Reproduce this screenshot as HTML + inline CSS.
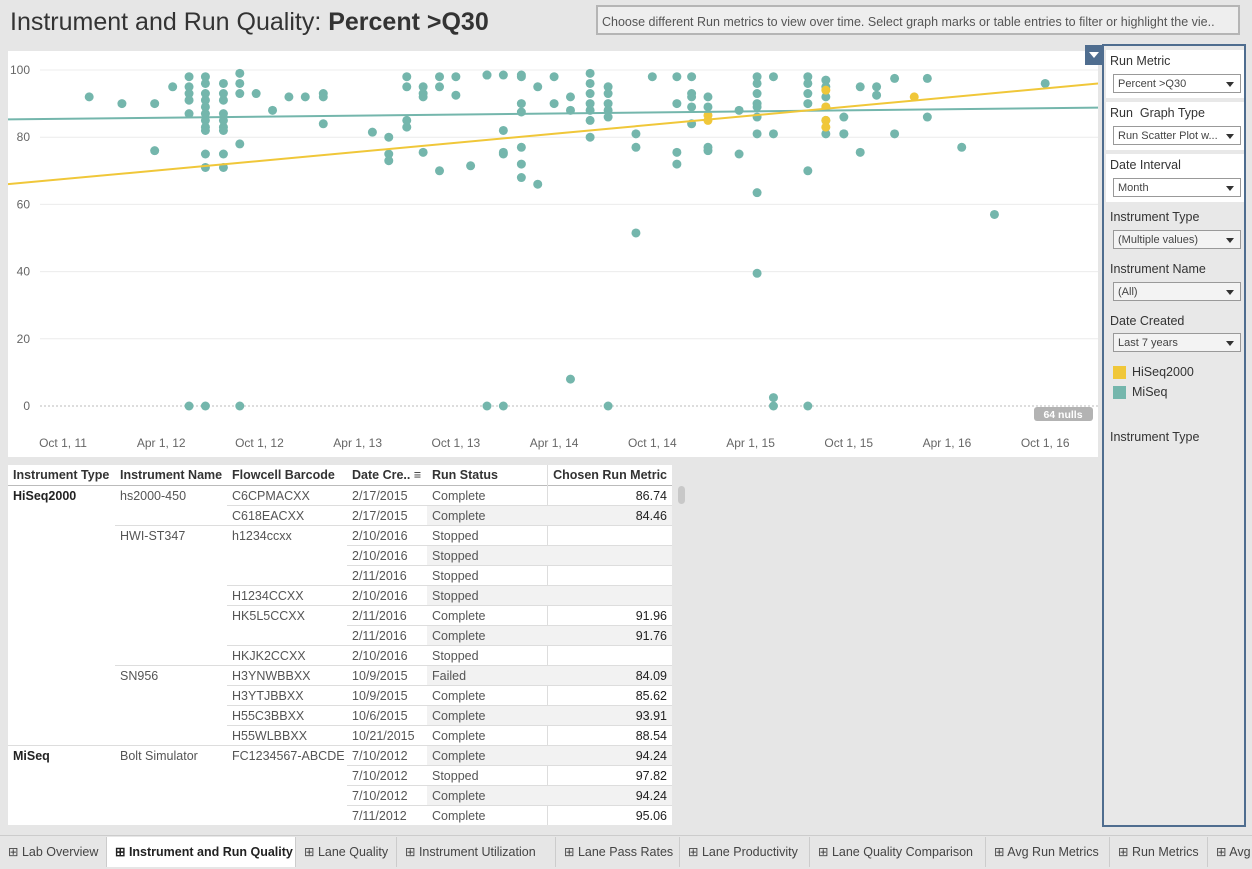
<!DOCTYPE html>
<html><head><meta charset="utf-8">
<style>
body{margin:0;width:1252px;height:868px;background:#e6e6e6;font-family:"Liberation Sans",sans-serif;position:relative;overflow:hidden;color:#333}
.abs{position:absolute}
#title{left:10px;top:8px;font-size:25px;color:#333}
#hint{left:596px;top:5px;width:644px;height:30px;border:2px solid #b5b5b5;background:#eee;font-size:12.5px;line-height:30px;padding-left:4px;color:#555;white-space:nowrap;overflow:hidden;box-sizing:border-box}
#chart{left:8px;top:51px;width:1090px;height:406px;background:#fff}
#panel{left:1102px;top:44px;width:144px;height:783px;border:2px solid #4f6d8f;box-sizing:border-box;background:#e8e8e8;overflow:hidden}
.sec{position:absolute;left:2px;width:138px;font-size:12.5px;color:#333}
.sec.w{background:#fff}
.dd{position:absolute;left:7px;width:128px;height:19px;border:1px solid #999;background:#fff;font-size:11px;line-height:19px;padding-left:4px;box-sizing:border-box;color:#444}
.dd:after{content:"";position:absolute;right:6px;top:7px;border-left:4px solid transparent;border-right:4px solid transparent;border-top:5px solid #333}
#table{left:8px;top:465px;width:664px;height:360px;background:#fff;overflow:hidden;font-size:12.5px}
.c{position:absolute;height:20px;line-height:20px;white-space:nowrap;color:#555;overflow:hidden}
#tabs{left:0;top:835px;width:1252px;height:33px;background:#e6e6e6;border-top:1px solid #ccc;overflow:hidden}
.tab{position:absolute;top:1px;height:30px;line-height:30px;font-size:12.5px;color:#444;border-right:1px solid #ccc;padding-left:8px;box-sizing:border-box;white-space:nowrap;overflow:hidden}
</style></head><body>
<div id="title" class="abs">Instrument and Run Quality: <b>Percent &gt;Q30</b></div>
<div id="hint" class="abs">Choose different Run metrics to view over time. Select graph marks or table entries to filter or highlight the vie..</div>

<svg id="chart" class="abs" width="1090" height="406"></svg>
<div class="abs" style="left:1085px;top:45px;width:17px;height:20px;background:#4f6d8f"><div style="margin:7px 0 0 4px;width:0;border-left:5px solid transparent;border-right:5px solid transparent;border-top:6px solid #fff"></div></div>

<div id="panel" class="abs">
 <div class="sec w" style="top:4px;height:48px"><div style="position:absolute;left:4px;top:4px">Run Metric</div><div class="dd" style="top:24px">Percent &gt;Q30</div></div>
 <div class="sec w" style="top:56px;height:48px"><div style="position:absolute;left:4px;top:4px">Run&nbsp; Graph Type</div><div class="dd" style="top:24px">Run Scatter Plot w...</div></div>
 <div class="sec w" style="top:108px;height:48px"><div style="position:absolute;left:4px;top:4px">Date Interval</div><div class="dd" style="top:24px">Month</div></div>
 <div class="sec" style="top:160px;height:48px"><div style="position:absolute;left:4px;top:4px">Instrument Type</div><div class="dd" style="top:24px;background:#f3f3f3">(Multiple values)</div></div>
 <div class="sec" style="top:212px;height:48px"><div style="position:absolute;left:4px;top:4px">Instrument Name</div><div class="dd" style="top:24px;background:#f3f3f3">(All)</div></div>
 <div class="sec" style="top:264px;height:48px"><div style="position:absolute;left:4px;top:4px">Date Created</div><div class="dd" style="top:23px;background:#f3f3f3">Last 7 years</div></div>
 <div class="sec" style="top:318px"><span style="position:absolute;left:7px;top:2px;width:13px;height:13px;background:#f0c739"></span><span style="position:absolute;left:26px;top:1px">HiSeq2000</span></div>
 <div class="sec" style="top:338px"><span style="position:absolute;left:7px;top:2px;width:13px;height:13px;background:#74b6ac"></span><span style="position:absolute;left:26px;top:1px">MiSeq</span></div>
 <div class="sec" style="top:384px"><span style="position:absolute;left:4px">Instrument Type</span></div>
</div>

<div id="table" class="abs"></div>
<div class="abs" style="left:678px;top:486px;width:7px;height:18px;border-radius:4px;background:#c8c8c8"></div>

<div id="tabs" class="abs"></div>

<script>
// ---- chart data (month offset from Oct 1 2011, value) ----
const miseqMonths=[1.6,3.6,5.6,5.6,6.7,7.7,7.7,7.7,7.7,7.7,7.7,8.7,8.7,8.7,8.7,8.7,8.7,8.7,8.7,8.7,8.7,8.7,8.7,9.8,9.8,9.8,9.8,9.8,9.8,9.8,9.8,9.8,10.8,10.8,10.8,10.8,10.8,11.8,12.8,13.8,14.8,15.9,15.9,15.9,18.9,19.9,19.9,19.9,21,21,21,21,22,22,22,22,23,23,23,24,24,24.9,25.9,25.9,25.9,26.9,26.9,26.9,26.9,26.9,28,28,28,28,28,28,28,29,29,30,30,31,31,31,32.2,32.2,32.2,32.2,32.2,32.2,32.2,33.3,33.3,33.3,33.3,33.3,33.3,35,35,35,36,37.5,37.5,37.5,37.5,38.4,38.4,38.4,38.4,38.4,39.4,39.4,39.4,39.4,41.3,41.3,42.4,42.4,42.4,42.4,42.4,42.4,42.4,42.4,42.4,43.4,43.4,43.4,43.4,45.5,45.5,45.5,45.5,45.5,45.5,46.6,46.6,46.6,46.6,46.6,46.6,47.7,47.7,47.7,48.7,48.7,49.7,49.7,50.8,50.8,52.8,52.8,54.9,56.9,60];
const miseqValues=[92,90,90,76,95,98,95,93,91,87,0,98,96,93,91,89,87,85,83,82,75,71,0,96,93,91,87,85,83,82,75,71,99,96,93,78,0,93,88,92,92,93,92,84,81.5,80,75,73,98,95,85,83,95,93,92,75.5,98,95,70,98,92.5,71.5,98.5,98.5,0,98.5,82,75.5,75,0,98.5,98,90,87.5,77,72,68,66,95,90,98,88,8,92,85,80,99,96,93,90,88,86,0,95,93,90,88,81,77,51.5,98,90,75.5,72,98,92,89,84,98,93,89,77,76,92,88,75,98,90,96,93,89,86,81,63.5,39.5,2.5,0,98,81,70,0,98,96,93,90,85,81,97,95,92,89,86,81,81,75.5,95,95,92.5,97.5,81,97.5,86,77,57,96,88,78.5];
const hiseqMonths=[39.4,39.4,46.6,46.6,46.6,46.6,52];
const hiseqValues=[86.5,85,94,89,85,83,92];
const trendStartMonth=-3.4, trendEndMonth=63.3;
const miseqTrend=[85.3,88.8];
const hiseqTrend=[66,96];
const yTicks=[0,20,40,60,80,100];
const xTickLabels=["Oct 1, 11","Apr 1, 12","Oct 1, 12","Apr 1, 13","Oct 1, 13","Apr 1, 14","Oct 1, 14","Apr 1, 15","Oct 1, 15","Apr 1, 16","Oct 1, 16"];
const xTickMonths=[0,6,12,18,24,30,36,42,48,54,60];

const svg=document.getElementById('chart');const NS='http://www.w3.org/2000/svg';
const xs=m=>55+m*16.37; const ys=v=>355-v*3.36;
function mk(t,a,p){const e=document.createElementNS(NS,t);for(const k in a)e.setAttribute(k,a[k]);(p||svg).appendChild(e);return e;}
yTicks.forEach((v,i)=>{
 const g=mk('line',{x1:32,x2:1090,y1:ys(v),y2:ys(v),stroke:v===0?'#bbb':'#ececec','stroke-dasharray':v===0?'2,2':'none'});
 
 
 const t=mk('text',{x:22,y:ys(v)+4,'text-anchor':'end','font-size':12,fill:'#666'});t.textContent=v;
 
 
});
xTickMonths.forEach((m,i)=>{
 const t=mk('text',{x:xs(m),y:396,'text-anchor':'middle','font-size':12,fill:'#666'});t.textContent=xTickLabels[i];
 
 
});
miseqMonths.forEach((m,i)=>{
 const c=mk('circle',{cx:xs(m),cy:ys(miseqValues[i]),r:4.5,fill:'#74b6ac'});
 
 
});
hiseqMonths.forEach((m,i)=>{
 const c=mk('circle',{cx:xs(m),cy:ys(hiseqValues[i]),r:4.5,fill:'#f0c739'});
 
 
});
let l=mk('line',{x1:xs(trendStartMonth),x2:xs(trendEndMonth),y1:ys(miseqTrend[0]),y2:ys(miseqTrend[1]),stroke:'#74b6ac','stroke-width':2});


l=mk('line',{x1:xs(trendStartMonth),x2:xs(trendEndMonth),y1:ys(hiseqTrend[0]),y2:ys(hiseqTrend[1]),stroke:'#f0c739','stroke-width':2});


const nb=mk('rect',{x:1026,y:356,width:59,height:14,rx:3,fill:'#b3b3b3'});


const nt=mk('text',{x:1055,y:367,'text-anchor':'middle','font-size':10.5,'font-weight':'bold',fill:'#fff'});nt.textContent='64 nulls';



// ---- table ----
const tb=document.getElementById('table');
const colX=[0,107,219,339,419,539,664];
const heads=["Instrument Type","Instrument Name","Flowcell Barcode","Date Cre.. \u2261","Run Status","Chosen Run Metric"];
const rows=[
["HiSeq2000","hs2000-450","C6CPMACXX","2/17/2015","Complete","86.74"],
["","","C618EACXX","2/17/2015","Complete","84.46"],
["","HWI-ST347","h1234ccxx","2/10/2016","Stopped",""],
["","","","2/10/2016","Stopped",""],
["","","","2/11/2016","Stopped",""],
["","","H1234CCXX","2/10/2016","Stopped",""],
["","","HK5L5CCXX","2/11/2016","Complete","91.96"],
["","","","2/11/2016","Complete","91.76"],
["","","HKJK2CCXX","2/10/2016","Stopped",""],
["","SN956","H3YNWBBXX","10/9/2015","Failed","84.09"],
["","","H3YTJBBXX","10/9/2015","Complete","85.62"],
["","","H55C3BBXX","10/6/2015","Complete","93.91"],
["","","H55WLBBXX","10/21/2015","Complete","88.54"],
["MiSeq","Bolt Simulator","FC1234567-ABCDE","7/10/2012","Complete","94.24"],
["","","","7/10/2012","Stopped","97.82"],
["","","","7/10/2012","Complete","94.24"],
["","","","7/11/2012","Complete","95.06"]];
function cell(x,y,w,txt,st,name){const d=document.createElement('div');d.className='c';d.style.left=x+'px';d.style.top=y+'px';d.style.width=w+'px';if(st)d.style.cssText+=st;d.textContent=txt;
 
 
 tb.appendChild(d);return d;}
heads.forEach((h,i)=>cell(colX[i]+5,0,colX[i+1]-colX[i]-10,h,'color:#333;font-weight:600;'+(i==5?'text-align:right;':''),'column-header'));
const hl=document.createElement('div');hl.style.cssText='position:absolute;left:0;top:20px;width:664px;height:1px;background:#bbb';tb.appendChild(hl);
const vl=document.createElement('div');vl.style.cssText='position:absolute;left:539px;top:0;width:1px;height:360px;background:#ddd';tb.appendChild(vl);
rows.forEach((r,i)=>{const y=21+i*20;
 if(i%2==1){const bg=document.createElement('div');bg.style.cssText=`position:absolute;left:419px;top:${y}px;width:245px;height:20px;background:#f2f2f2`;tb.appendChild(bg);}
 if(i>0){let start=r[0]?0:(r[1]?107:(r[2]?219:339));
  const ln=document.createElement('div');ln.style.cssText=`position:absolute;left:${start}px;top:${y-1}px;width:${664-start}px;height:1px;background:#ddd`;tb.appendChild(ln);}
 r.forEach((v,j)=>{if(!v)return;cell(colX[j]+5,y,colX[j+1]-colX[j]-(j==2?6:10),v,(j==0?'color:#222;font-weight:bold;':'')+(j==5?'text-align:right;color:#222;':''),'table-cell');});
});

// ---- tabs ----
const tabs=[["Lab Overview",0,107],["Instrument and Run Quality",107,296],["Lane Quality",296,397],["Instrument Utilization",397,556],["Lane Pass Rates",556,680],["Lane Productivity",680,810],["Lane Quality Comparison",810,986],["Avg Run Metrics",986,1110],["Run Metrics",1110,1208],["Avg Run Metrics",1208,1252]];
const tabsEl=document.getElementById('tabs');
tabs.forEach((t,i)=>{const d=document.createElement('div');d.className='tab';d.style.left=t[1]+'px';d.style.width=(t[2]-t[1])+'px';
 if(i==1){d.style.background='#fff';d.style.fontWeight='bold';d.style.color='#222';}
 if(i==tabs.length-1){d.style.borderRight='none';}
 d.textContent='\u229E '+t[0];
 
 
 tabsEl.appendChild(d);});
</script>
</body></html>
